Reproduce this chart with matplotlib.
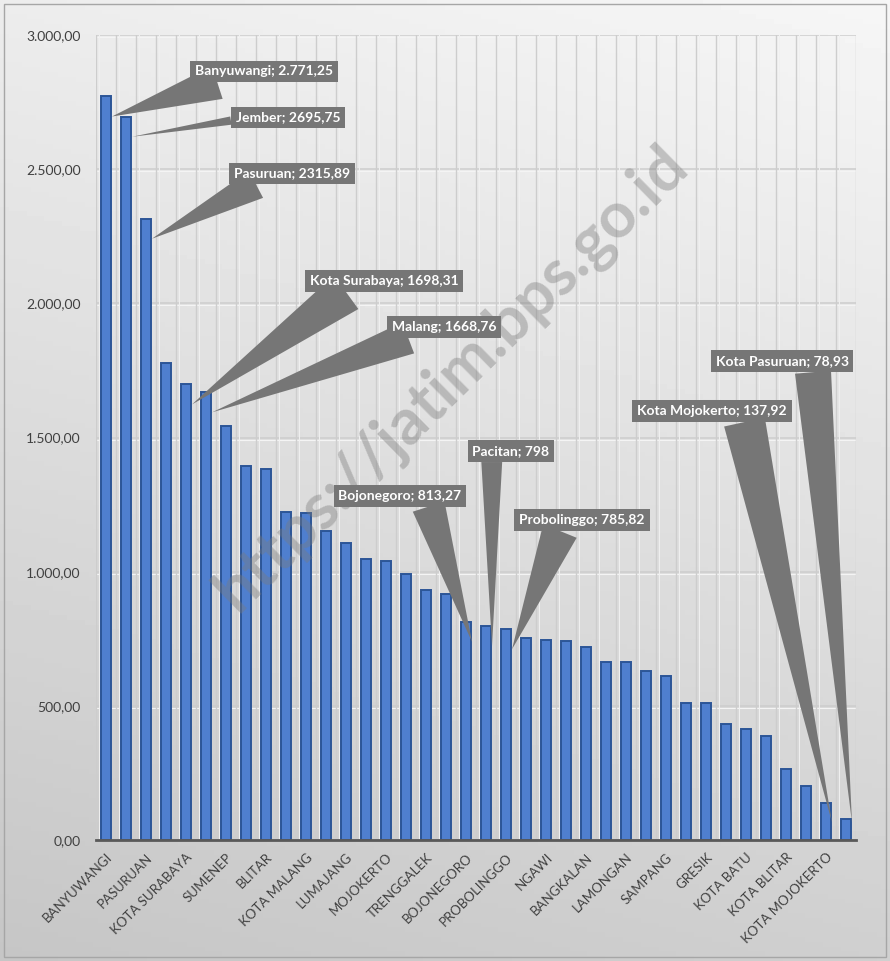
import numpy as np
import matplotlib.pyplot as plt
from matplotlib.patches import Rectangle

plt.rcParams['font.family'] = ['Lato', 'DejaVu Sans']

# kabupaten / kota, sorted from the largest value
kabkota = ['Banyuwangi', 'Jember', 'Pasuruan', 'Kediri', 'Kota Surabaya', 'Malang',
           'Sumenep', 'Tuban', 'Blitar', 'Sidoarjo', 'Kota Malang', 'Bondowoso',
           'Lumajang', 'Jombang', 'Mojokerto', 'Nganjuk', 'Trenggalek', 'Tulungagung',
           'Bojonegoro', 'Pacitan', 'Probolinggo', 'Situbondo', 'Ngawi', 'Madiun',
           'Bangkalan', 'Ponorogo', 'Lamongan', 'Magetan', 'Sampang', 'Pamekasan',
           'Gresik', 'Kota Kediri', 'Kota Batu', 'Kota Probolinggo', 'Kota Blitar',
           'Kota Madiun', 'Kota Mojokerto', 'Kota Pasuruan']
nilai = [2771.25, 2695.75, 2315.89, 1776, 1698.31, 1668.76,
         1544, 1393, 1382, 1223, 1219, 1152,
         1107, 1049, 1040, 993, 931, 916,
         813.27, 798, 785.82, 751, 744, 743,
         720, 664, 664, 629, 612, 511,
         511, 432, 412, 387, 263,
         200, 137.92, 78.93]

# only every other category is written on the axis
tick_idx = list(range(0, 38, 2))

# callout labels
label_idx = [0, 1, 2, 4, 5, 18, 19, 20, 36, 37]
label_teks = ['Banyuwangi; 2.771,25', 'Jember; 2695,75', 'Pasuruan; 2315,89',
              'Kota Surabaya; 1698,31', 'Malang; 1668,76', 'Bojonegoro; 813,27',
              'Pacitan; 798', 'Probolinggo; 785,82', 'Kota Mojokerto; 137,92',
              'Kota Pasuruan; 78,93']
label_xy = [(7.9, 2864), (9.1, 2693), (9.3, 2484), (13.9, 2082), (16.9, 1912),
            (14.7, 1283), (20.25, 1449), (23.8, 1192), (30.3, 1598), (33.8, 1784)]
# where the wedge leaves the box, and how wide it is there
wedge_rel = [(0.27, 0), (0, 0.3), (0.27, 0), (0.29, 0), (0.28, 0),
             (0.72, 0), (0.25, 0), (0.34, 0), (0.71, 0), (0.73, 0)]
wedge_w = [2.5, 0.6, 2.2, 3.0, 2.4, 2.4, 1.5, 2.6, 3.0, 2.6]

fig = plt.figure(figsize=(8.9, 9.61), dpi=100)

# grey gradient background of the whole chart
bg = fig.add_axes([0, 0, 1, 1], zorder=-10)
yy, xx = np.mgrid[0:1:200j, 0:1:200j]
grad = 0.965 - 0.19 * (0.8 * yy + 0.2 * (1 - xx))
bg.imshow(grad, cmap='gray', vmin=0, vmax=1, aspect='auto', extent=[0, 1, 0, 1])
bg.add_patch(Rectangle((0.004, 0.004), 0.992, 0.992, fill=False, ec='#a6a6a6', lw=1))
bg.set_xlim(0, 1)
bg.set_ylim(0, 1)
bg.axis('off')

ax = fig.add_axes([96 / 890, 1 - 840 / 961, 760 / 890, 805 / 961])
ax.set_facecolor('none')

x = np.arange(len(nilai))
ax.bar(x, nilai, width=0.52, color='#4f7fcf', edgecolor='#2c5597', linewidth=1.4, zorder=3)

ax.set_xlim(-0.5, len(nilai) - 0.5)
ax.set_ylim(0, 3000)

# grid: horizontal and vertical between bars
for v in range(0, 3001, 500):
    ax.axhline(v, color='#cdcdcd', lw=1.1, zorder=1)
    ax.axhline(v - 8, color='#f4f4f4', lw=0.8, zorder=1)
for k in range(len(nilai) + 1):
    ax.axvline(k - 0.5, color='#cdcdcd', lw=1.0, zorder=1)
    ax.axvline(k - 0.35, color='#f0f0f0', lw=0.7, zorder=1)

ax.set_yticks(range(0, 3001, 500))
ax.set_yticklabels([f'{v:,.2f}'.replace(',', 'X').replace('.', ',').replace('X', '.')
                    for v in range(0, 3001, 500)], fontsize=10, color='#404040')
ax.set_xticks(tick_idx)
ax.set_xticklabels([kabkota[i].upper() for i in tick_idx], rotation=45, ha='right',
                   rotation_mode='anchor', fontsize=9.5, color='#404040')
ax.tick_params(length=0, axis='y', pad=11)
ax.tick_params(length=0, axis='x', pad=8)

for s in ['top', 'right', 'left']:
    ax.spines[s].set_visible(False)
ax.spines['bottom'].set_color('#595959')
ax.spines['bottom'].set_linewidth(2)
ax.spines['bottom'].set_zorder(4)

# watermark: over the bars, under the callouts
ax.text(0.507, 0.606, 'https://jatim.bps.go.id', transform=fig.transFigure,
        rotation=44.5, ha='center', va='center', fontsize=46, fontweight='bold',
        color='#7a7a7a', alpha=0.4, zorder=5, clip_on=False)

# callouts
for i, teks, pos, rel, w in zip(label_idx, label_teks, label_xy, wedge_rel, wedge_w):
    v = nilai[i]
    tip = max(v - 75, 65)
    ax.annotate(teks, xy=(i + 0.3, tip), xytext=pos, ha='center', va='center',
                fontsize=10, fontweight='bold', color='white', zorder=6,
                bbox=dict(boxstyle='square,pad=0.35', fc='#767676', ec='none'),
                arrowprops=dict(arrowstyle=f'wedge,tail_width={w}', fc='#767676',
                                ec='none', shrinkA=0, shrinkB=0, relpos=rel))

fig.savefig('out.png', dpi=100)
